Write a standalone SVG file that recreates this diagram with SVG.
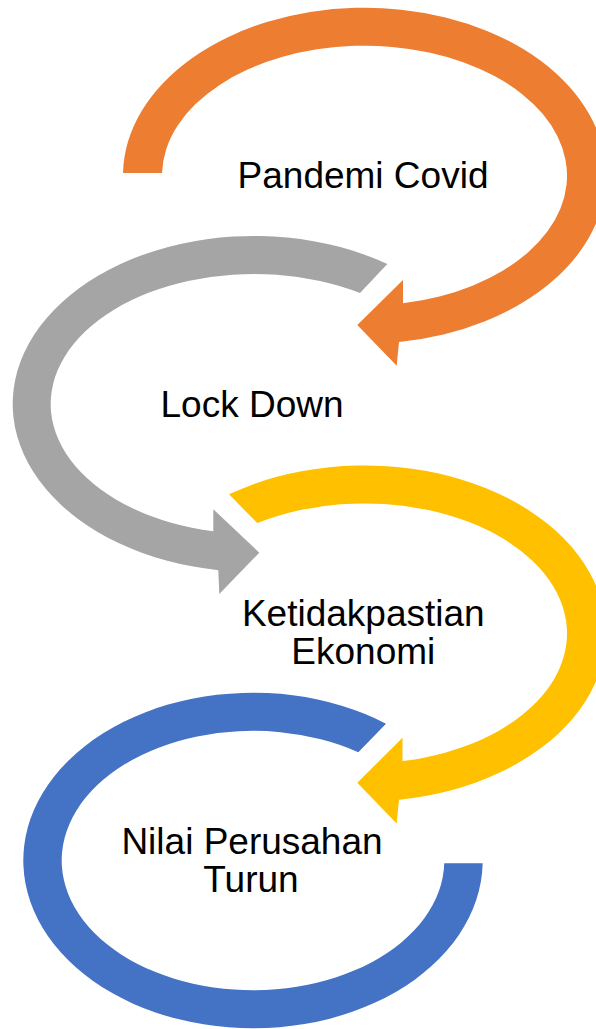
<svg xmlns="http://www.w3.org/2000/svg" width="596" height="1029" viewBox="0 0 596 1029">
<style>
.lbl{font-family:"Liberation Sans",Arial,sans-serif;font-size:37px;fill:#000;text-anchor:middle}
.orange{fill:#ED7D31}
.gray{fill:#A5A5A5}
.yellow{fill:#FFC000}
.blue{fill:#4472C4}
</style>
<rect width="596" height="1029" fill="#fff"/>
<g id="connectors"/>
<g id="node-pandemi">
<path class="orange" d="M123.03,173 A241.5 168 0 1 1 399,341.98 L396.7,365.7 L357.3,325 L403,280 L403,303.33 A202.5 130 0 1 0 162.04,173 Z"/>
<text class="lbl" x="363" y="187.5">Pandemi Covid</text>
</g>
<g id="node-lockdown">
<path class="gray" d="M387.3,263.96 A241.3 168 0 1 0 218.3,570.15 L219.3,594 L259.3,552.7 L213.3,509.3 L213.3,531.37 A203.3 130 0 1 1 360,293.07 Z"/>
<text class="lbl" x="252" y="416.5">Lock Down</text>
</g>
<g id="node-ketidakpastian">
<path class="yellow" d="M229,494.34 A241.5 168 0 1 1 399,799.68 L396.7,823.4 L357.3,782.7 L402.5,737.7 L402.5,761.09 A202.5 130 0 1 0 257.3,523.11 Z"/>
<text class="lbl" x="363.3" y="625.5">Ketidakpastian</text>
<text class="lbl" x="363.3" y="664">Ekonomi</text>
</g>
<g id="node-nilai">
<path class="blue" d="M386,723.69 A229.7 167.8 0 1 0 482.67,863.3 L444.26,863.3 A191.3 129.7 0 1 1 358.3,752.22 Z"/>
<text class="lbl" x="252" y="854">Nilai Perusahan</text>
<text class="lbl" x="251" y="892.3">Turun</text>
</g>
</svg>
